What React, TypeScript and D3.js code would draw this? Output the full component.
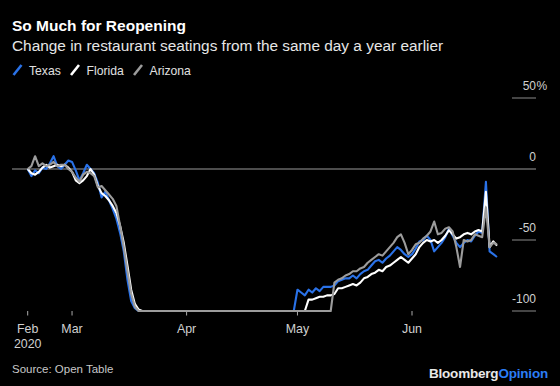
import React from 'react';
import * as d3 from 'd3';

// daily change vs. same day a year earlier, Feb 18 - Jun 24 2020
const startDate = new Date(2020, 1, 18);

const texas = [
  0, -5, -1, -3, 1, 0, 4, 9, 2, 0, 3, 6, 5, -1, -8, -3, 3, 0, -3, -10,
  -20, -16, -22, -28, -35, -45, -58, -78, -93, -98, -100, -100,
  -100, -100, -100, -100, -100, -100, -100, -100, -100, -100,
  -100, -100, -100, -100, -100, -100, -100, -100, -100, -100,
  -100, -100, -100, -100, -100, -100, -100, -100, -100, -100,
  -100, -100, -100, -100, -100, -100, -100, -100, -100, -100,
  -100,
  -85, -87, -89, -85, -87, -84, -86, -83, -83, -83, -82, -79, -78, -77, -77,
  -75, -77, -74, -72, -71, -68, -65, -64, -66, -63, -61, -58, -55,
  -57, -60, -62, -60, -56, -51, -50, -47, -50, -58, -55, -52, -48, -42,
  -47, -52, -55, -52, -50, -51, -47, -44, -45, -9, -58, -60, -62,
];

const florida = [
  0, -3, -4, -2, 1, 3, 1, 2, 3, 2, 3, 1, -2, -8, -10, -8, -5, 0, -4, -12,
  -17, -19, -22, -26, -31, -40, -52, -68, -85, -95, -99, -100,
  -100, -100, -100, -100, -100, -100, -100, -100, -100, -100,
  -100, -100, -100, -100, -100, -100, -100, -100, -100, -100,
  -100, -100, -100, -100, -100, -100, -100, -100, -100, -100,
  -100, -100, -100, -100, -100, -100, -100, -100, -100, -100,
  -100, -100, -100, -100,
  -92, -92, -91, -90, -90, -89, -89, -88, -84, -84, -83, -82, -81, -82, -80,
  -77, -76, -74, -73, -71, -72, -69, -68, -66, -64,
  -62, -64, -66, -63, -60, -55, -52, -50, -51, -50, -52, -50, -47, -43,
  -46, -49, -48, -46, -45, -46, -44, -43, -44, -16, -55, -51, -54,
];

const arizona = [
  0, 2, 9, 2, 4, 2, 3, 5, 2, 3, 3, 0, -2, -6, -9, -4, -2, -3, -5, -13,
  -12, -15, -18, -21, -26, -40, -55, -72, -88, -97, -100, -100,
  -100, -100, -100, -100, -100, -100, -100, -100, -100, -100,
  -100, -100, -100, -100, -100, -100, -100, -100, -100, -100,
  -100, -100, -100, -100, -100, -100, -100, -100, -100, -100,
  -100, -100, -100, -100, -100, -100, -100, -100, -100, -100,
  -100, -100, -100, -100, -100, -100, -100, -100, -100, -100,
  -100,
  -80, -78, -77, -75, -74, -72, -72, -70, -69, -66, -64, -62, -60, -61,
  -58, -55, -52, -48, -46, -52, -60, -57, -53, -52, -49, -47, -44, -37,
  -46, -45, -42, -41, -44, -55, -69, -50, -51, -50, -46, -47, -48, -27,
  -55, -52, -53,
];

const yTicks = [-100, -50, 0, 50];
const xTickDates = [
  new Date(2020, 1, 18),
  new Date(2020, 2, 1),
  new Date(2020, 3, 1),
  new Date(2020, 4, 1),
  new Date(2020, 5, 1),
];
const xTickLabels = ['Feb', 'Mar', 'Apr', 'May', 'Jun'];

const series = [
  { name: 'Texas', values: texas, color: '#2a72e8' },
  { name: 'Florida', values: florida, color: '#ffffff' },
  { name: 'Arizona', values: arizona, color: '#9c9c9c' },
];

const font = '"Liberation Sans", Arial, Helvetica, sans-serif';

const App = () => {
  const width = 560;
  const height = 386;

  const dates = texas.map((_, i) => d3.timeDay.offset(startDate, i));

  const x = d3
    .scaleTime()
    .domain([startDate, dates[dates.length - 1]])
    .range([27.7, 497]);

  const y = d3.scaleLinear().domain([-100, 50]).range([311, 98]);

  const line = d3
    .line<number>()
    .x((_, i) => x(dates[i]))
    .y((d) => y(d));

  // legend entries: slash + label
  const legend = [
    { slash: 13.5, text: 29 },
    { slash: 71, text: 86.5 },
    { slash: 134, text: 149.5 },
  ];

  return (
    <svg
      width={width}
      height={height}
      style={{ position: 'absolute', left: 0, top: 0, display: 'block' }}
      fontFamily={font}
    >
      <rect width={width} height={height} fill="#000" />

      <text x={12} y={31} fill="#fff" fontSize={15.5} fontWeight="bold">
        So Much for Reopening
      </text>
      <text x={12} y={51} fill="#e6e6e6" fontSize={15.4}>
        Change in restaurant seatings from the same day a year earlier
      </text>

      {series.map((s, i) => (
        <g key={s.name}>
          <line
            x1={legend[i].slash}
            y1={75}
            x2={legend[i].slash + 8}
            y2={65}
            stroke={s.color}
            strokeWidth={2.6}
          />
          <text x={legend[i].text} y={75} fill="#e0e0e0" fontSize={12.2}>
            {s.name}
          </text>
        </g>
      ))}

      {/* y axis on the right */}
      {yTicks.map((t) => (
        <g key={t}>
          <line
            x1={t === 0 ? 12 : 512}
            x2={536}
            y1={y(t)}
            y2={y(t)}
            stroke={t === 0 ? '#9a9a9a' : '#8a8a8a'}
            strokeWidth={1}
          />
          <text x={536} y={y(t) - 8} fill="#d0d0d0" fontSize={12} textAnchor="end">
            {t}
          </text>
          {t === 50 && (
            <text x={536.5} y={y(t) - 8} fill="#d0d0d0" fontSize={12}>
              %
            </text>
          )}
        </g>
      ))}

      {/* x axis */}
      {xTickDates.map((d, i) => (
        <g key={xTickLabels[i]}>
          <line x1={x(d)} x2={x(d)} y1={311} y2={315.5} stroke="#aaa" strokeWidth={1} />
          <text x={x(d)} y={332.5} fill="#d0d0d0" fontSize={12.4} textAnchor="middle">
            {xTickLabels[i]}
          </text>
        </g>
      ))}
      <text x={x(xTickDates[0])} y={347.5} fill="#d0d0d0" fontSize={12.4} textAnchor="middle">
        2020
      </text>

      {series.map((s) => (
        <path
          key={s.name}
          d={line(s.values) || ''}
          fill="none"
          stroke={s.color}
          strokeWidth={2.1}
          strokeLinejoin="round"
        />
      ))}

      <text x={12} y={373.3} fill="#c8c8c8" fontSize={11.5}>
        Source: Open Table
      </text>
      <text x={548} y={377.5} fontSize={13.5} fontWeight="bold" textAnchor="end" letterSpacing={-0.2}>
        <tspan fill="#e8e8e8">Bloomberg</tspan>
        <tspan fill="#2b7df5">Opinion</tspan>
      </text>
    </svg>
  );
};

export default App;
